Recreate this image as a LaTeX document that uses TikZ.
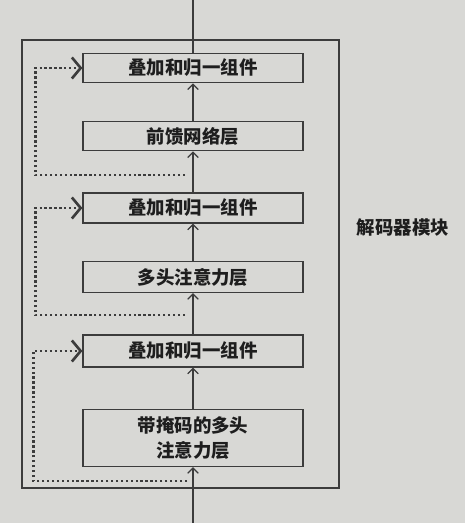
\documentclass[tikz,border=0pt]{standalone}
\usepackage{xcolor}
\usepackage{fontspec}
\usepackage{tikz}
\usetikzlibrary{arrows.meta, positioning, calc}
\newfontfamily\cjk{Noto Sans CJK SC}
\definecolor{paper}{RGB}{216, 216, 213}
\definecolor{inkgray}{RGB}{60, 60, 60}
\definecolor{textblack}{RGB}{30, 30, 30}

\begin{document}
\begin{tikzpicture}[
    layer/.style={rectangle, draw=inkgray, line width=0.7pt, minimum width=4.4cm, minimum height=#1, align=center, text=textblack, font=\cjk\bfseries\fontsize{10.5}{14}\selectfont},
    layer/.default=0.56cm,
    arrow/.style={-{Straight Barb[length=3pt, width=6pt]}, line width=0.7pt, inkgray},
    res/.style={-{Straight Barb[length=5pt, width=12pt]}, line width=1.5pt, inkgray, dash pattern=on 1.3pt off 1.5pt}
]
    \fill[paper] (0,0) rectangle (9.3,-10.46);
    \useasboundingbox (0,0) rectangle (9.3,-10.46);

    % outer block
    \node[draw=inkgray, line width=0.7pt, minimum width=6.34cm, minimum height=8.96cm] (block) at (3.61,-5.28) {};
    \node[font=\cjk\bfseries\fontsize{10.5}{14}\selectfont, text=textblack] (blocklabel) at (8.06,-4.56) {解码器模块};

    % layers
    \node[layer] (add1) at (3.86,-1.36) {叠加和归一组件};
    \node[layer] (ffn) at (3.86,-2.72) {前馈网络层};
    \node[layer=0.6cm] (add2) at (3.86,-4.16) {叠加和归一组件};
    \node[layer=0.62cm] (mha) at (3.86,-5.54) {多头注意力层};
    \node[layer=0.64cm] (add3) at (3.86,-7.02) {叠加和归一组件};
    \node[layer=1.14cm] (mmha) at (3.86,-8.76) {带掩码的多头\\注意力层};

    \coordinate (in) at (3.86,-10.46);
    \coordinate (out) at (3.86,0);

    % main path
    \draw[arrow] (in) -- (mmha);
    \draw[arrow] (mmha) -- (add3);
    \draw[arrow] (add3) -- (mha);
    \draw[arrow] (mha) -- (add2);
    \draw[arrow] (add2) -- (ffn);
    \draw[arrow] (ffn) -- (add1);
    \draw[line width=0.7pt, inkgray] (add1) -- (out);

    % residual links
    \coordinate (r1) at (3.7,-3.5);
    \coordinate (r2) at (3.7,-6.3);
    \coordinate (r3) at (3.74,-9.62);
    \draw[res] (r1) -| ([xshift=-0.94cm]add1.west) -- (add1.west);
    \draw[res] (r2) -| ([xshift=-0.94cm]add2.west) -- (add2.west);
    \draw[res] (r3) -| ([xshift=-0.98cm]add3.west) -- (add3.west);
\end{tikzpicture}
\end{document}
